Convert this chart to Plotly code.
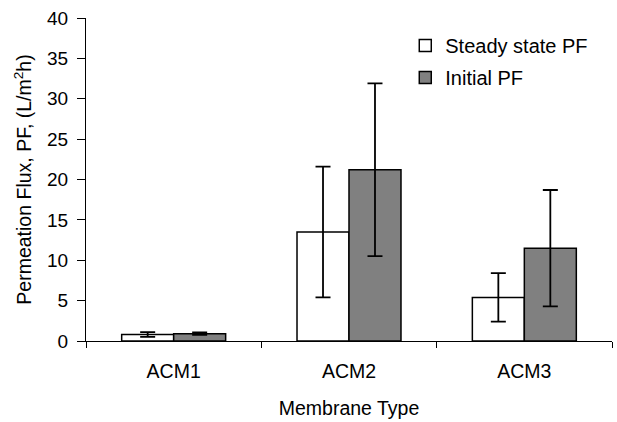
import plotly.graph_objects as go

categories = ["ACM1", "ACM2", "ACM3"]
steady_pf = [0.8, 13.5, 5.4]
steady_err = [0.3, 8.1, 3.0]
initial_pf = [0.9, 21.2, 11.5]
initial_err = [0.15, 10.7, 7.2]

fig = go.Figure()
fig.add_trace(go.Bar(
    x=categories, y=steady_pf, name="Steady state PF", legendgroup="a",
    marker=dict(color="white", line=dict(color="black", width=1.5)),
    error_y=dict(type="data", array=steady_err, color="black", thickness=1.8, width=7.5),
))
fig.add_trace(go.Bar(
    x=categories, y=initial_pf, name="Initial PF", legendgroup="b",
    marker=dict(color="#808080", line=dict(color="black", width=1.5)),
    error_y=dict(type="data", array=initial_err, color="black", thickness=1.8, width=7.5),
))

font = dict(family="Liberation Sans, Arial, sans-serif", size=19, color="black")
fig.update_layout(
    width=617, height=422,
    margin=dict(l=86, r=5, t=18, b=81),
    paper_bgcolor="white", plot_bgcolor="white",
    font=font,
    barmode="group", bargap=0.407, bargroupgap=0,
    showlegend=True,
    legend=dict(x=0.607, y=0.975, xanchor="left", yanchor="top",
                bgcolor="rgba(0,0,0,0)", font=dict(size=20),
                itemwidth=30, tracegroupgap=3),
    xaxis=dict(
        title=dict(text="Membrane Type", standoff=19, font=dict(size=19.5)),
        showline=True, linecolor="black", linewidth=1,
        ticks="outside", tickson="boundaries", ticklen=6, tickcolor="black",
        showgrid=False, ticklabelstandoff=13,
        tickfont=dict(size=19.5),
    ),
    yaxis=dict(
        title=dict(text="Permeation Flux, PF, (L/m<sup>2</sup>h)", standoff=10, font=dict(size=19.5)),
        range=[0, 40], dtick=5,
        showline=True, linecolor="black", linewidth=1,
        ticks="outside", ticklen=8, tickcolor="black",
        showgrid=False, zeroline=False, ticklabelstandoff=5,
        tickfont=dict(size=19),
    ),
)
fig.write_html("out.html")
